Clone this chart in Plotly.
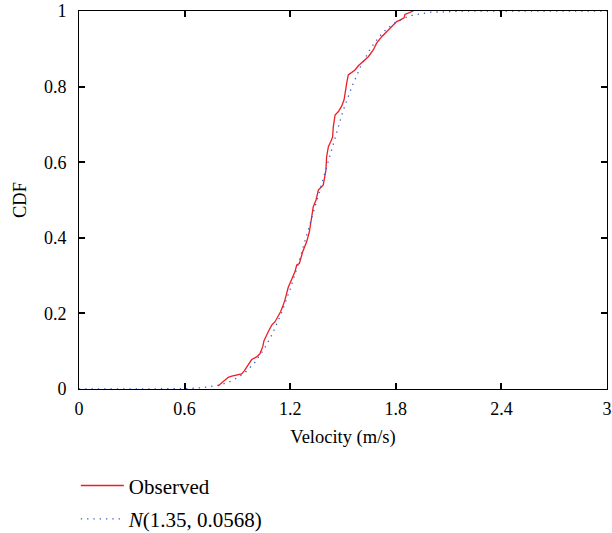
import plotly.graph_objects as go

obs_x = [0.79, 0.82, 0.848, 0.868, 0.924, 0.939, 0.953, 0.981, 1.009, 1.028, 1.044, 1.051,
         1.076, 1.095, 1.114, 1.132, 1.146, 1.157, 1.170, 1.189, 1.208, 1.227, 1.237, 1.252,
         1.271, 1.294, 1.309, 1.322, 1.331, 1.347, 1.36, 1.388, 1.403, 1.407, 1.417, 1.43,
         1.441, 1.445, 1.455, 1.474, 1.493, 1.506, 1.511, 1.521, 1.530, 1.55, 1.568, 1.587,
         1.616, 1.644, 1.672, 1.691, 1.72, 1.757, 1.786, 1.805, 1.824, 1.847, 1.852, 1.881, 1.9]
obs_y = [0.008, 0.019, 0.031, 0.034, 0.040, 0.048, 0.059, 0.078, 0.085, 0.093, 0.112, 0.128,
         0.152, 0.169, 0.178, 0.193, 0.205, 0.218, 0.235, 0.269, 0.288, 0.310, 0.328, 0.332,
         0.363, 0.390, 0.416, 0.456, 0.482, 0.500, 0.526, 0.540, 0.579, 0.615, 0.641, 0.654,
         0.667, 0.694, 0.725, 0.734, 0.749, 0.765, 0.782, 0.809, 0.831, 0.839, 0.844, 0.855,
         0.866, 0.879, 0.897, 0.915, 0.932, 0.950, 0.963, 0.972, 0.976, 0.982, 0.991, 0.997, 1.0]

# Fitted normal CDF N(1.35, 0.0568)
fit_x = [0, 0.5, 0.6, 0.7, 0.75, 0.8, 0.85, 0.9, 0.95, 1.0, 1.05, 1.1, 1.15, 1.2, 1.25, 1.3,
         1.35, 1.4, 1.45, 1.5, 1.55, 1.6, 1.65, 1.7, 1.75, 1.8, 1.85, 1.9, 2.0, 2.1, 2.2, 3.0]
fit_y = [0, 0.0002, 0.0008, 0.0032, 0.0059, 0.0105, 0.018, 0.0295, 0.0466, 0.071, 0.104,
         0.1471, 0.2007, 0.2646, 0.3373, 0.4169, 0.5, 0.5831, 0.6627, 0.7354, 0.7993, 0.8529,
         0.896, 0.929, 0.9534, 0.9705, 0.982, 0.9895, 0.9968, 0.9992, 0.9998, 1.0]

x_ticks = [0, 0.6, 1.2, 1.8, 2.4, 3]
x_labels = ["0", "0.6", "1.2", "1.8", "2.4", "3"]
y_ticks = [0, 0.2, 0.4, 0.6, 0.8, 1]
y_labels = ["0", "0.2", "0.4", "0.6", "0.8", "1"]

FONT = "Liberation Serif, Times New Roman, serif"

fig = go.Figure()
fig.add_trace(go.Scatter(x=obs_x, y=obs_y, mode="lines", name="Observed",
                         line=dict(color="#ee1c25", width=1.3), legendgroup="a"))
fig.add_trace(go.Scatter(x=fit_x, y=fit_y, mode="lines", name="<i>N</i>(1.35, 0.0568)",
                         line=dict(color="#3a5cc8", width=1.3, dash="1.3px,5px"), legendgroup="b"))

axis_common = dict(showline=True, linecolor="black", linewidth=1, mirror="allticks",
                   ticks="inside", ticklen=6, tickcolor="black", tickwidth=1.5,
                   showgrid=False, zeroline=False, automargin=False,
                   tickfont=dict(family=FONT, size=18, color="black"))

fig.update_layout(
    width=612, height=533,
    margin=dict(l=79, r=5, t=11, b=144, autoexpand=False),
    paper_bgcolor="white", plot_bgcolor="white",
    font=dict(family=FONT, size=18, color="black"),
    xaxis=dict(range=[0, 3], tickvals=x_ticks, ticktext=x_labels, ticklabelstandoff=3,
               title=dict(text="Velocity (m/s)", font=dict(family=FONT, size=18.5), standoff=12),
               **axis_common),
    yaxis=dict(range=[0, 1], tickvals=y_ticks, ticktext=y_labels, ticklabelstandoff=8,
               title=dict(text="CDF", font=dict(family=FONT, size=18.5), standoff=12),
               **axis_common),
    showlegend=True,
    legend=dict(x=-0.006, xanchor="left", y=-0.202, yanchor="top",
                font=dict(family=FONT, size=21, color="black"), itemwidth=43,
                bgcolor="rgba(0,0,0,0)", tracegroupgap=3),
)

fig.write_html("out.html")
